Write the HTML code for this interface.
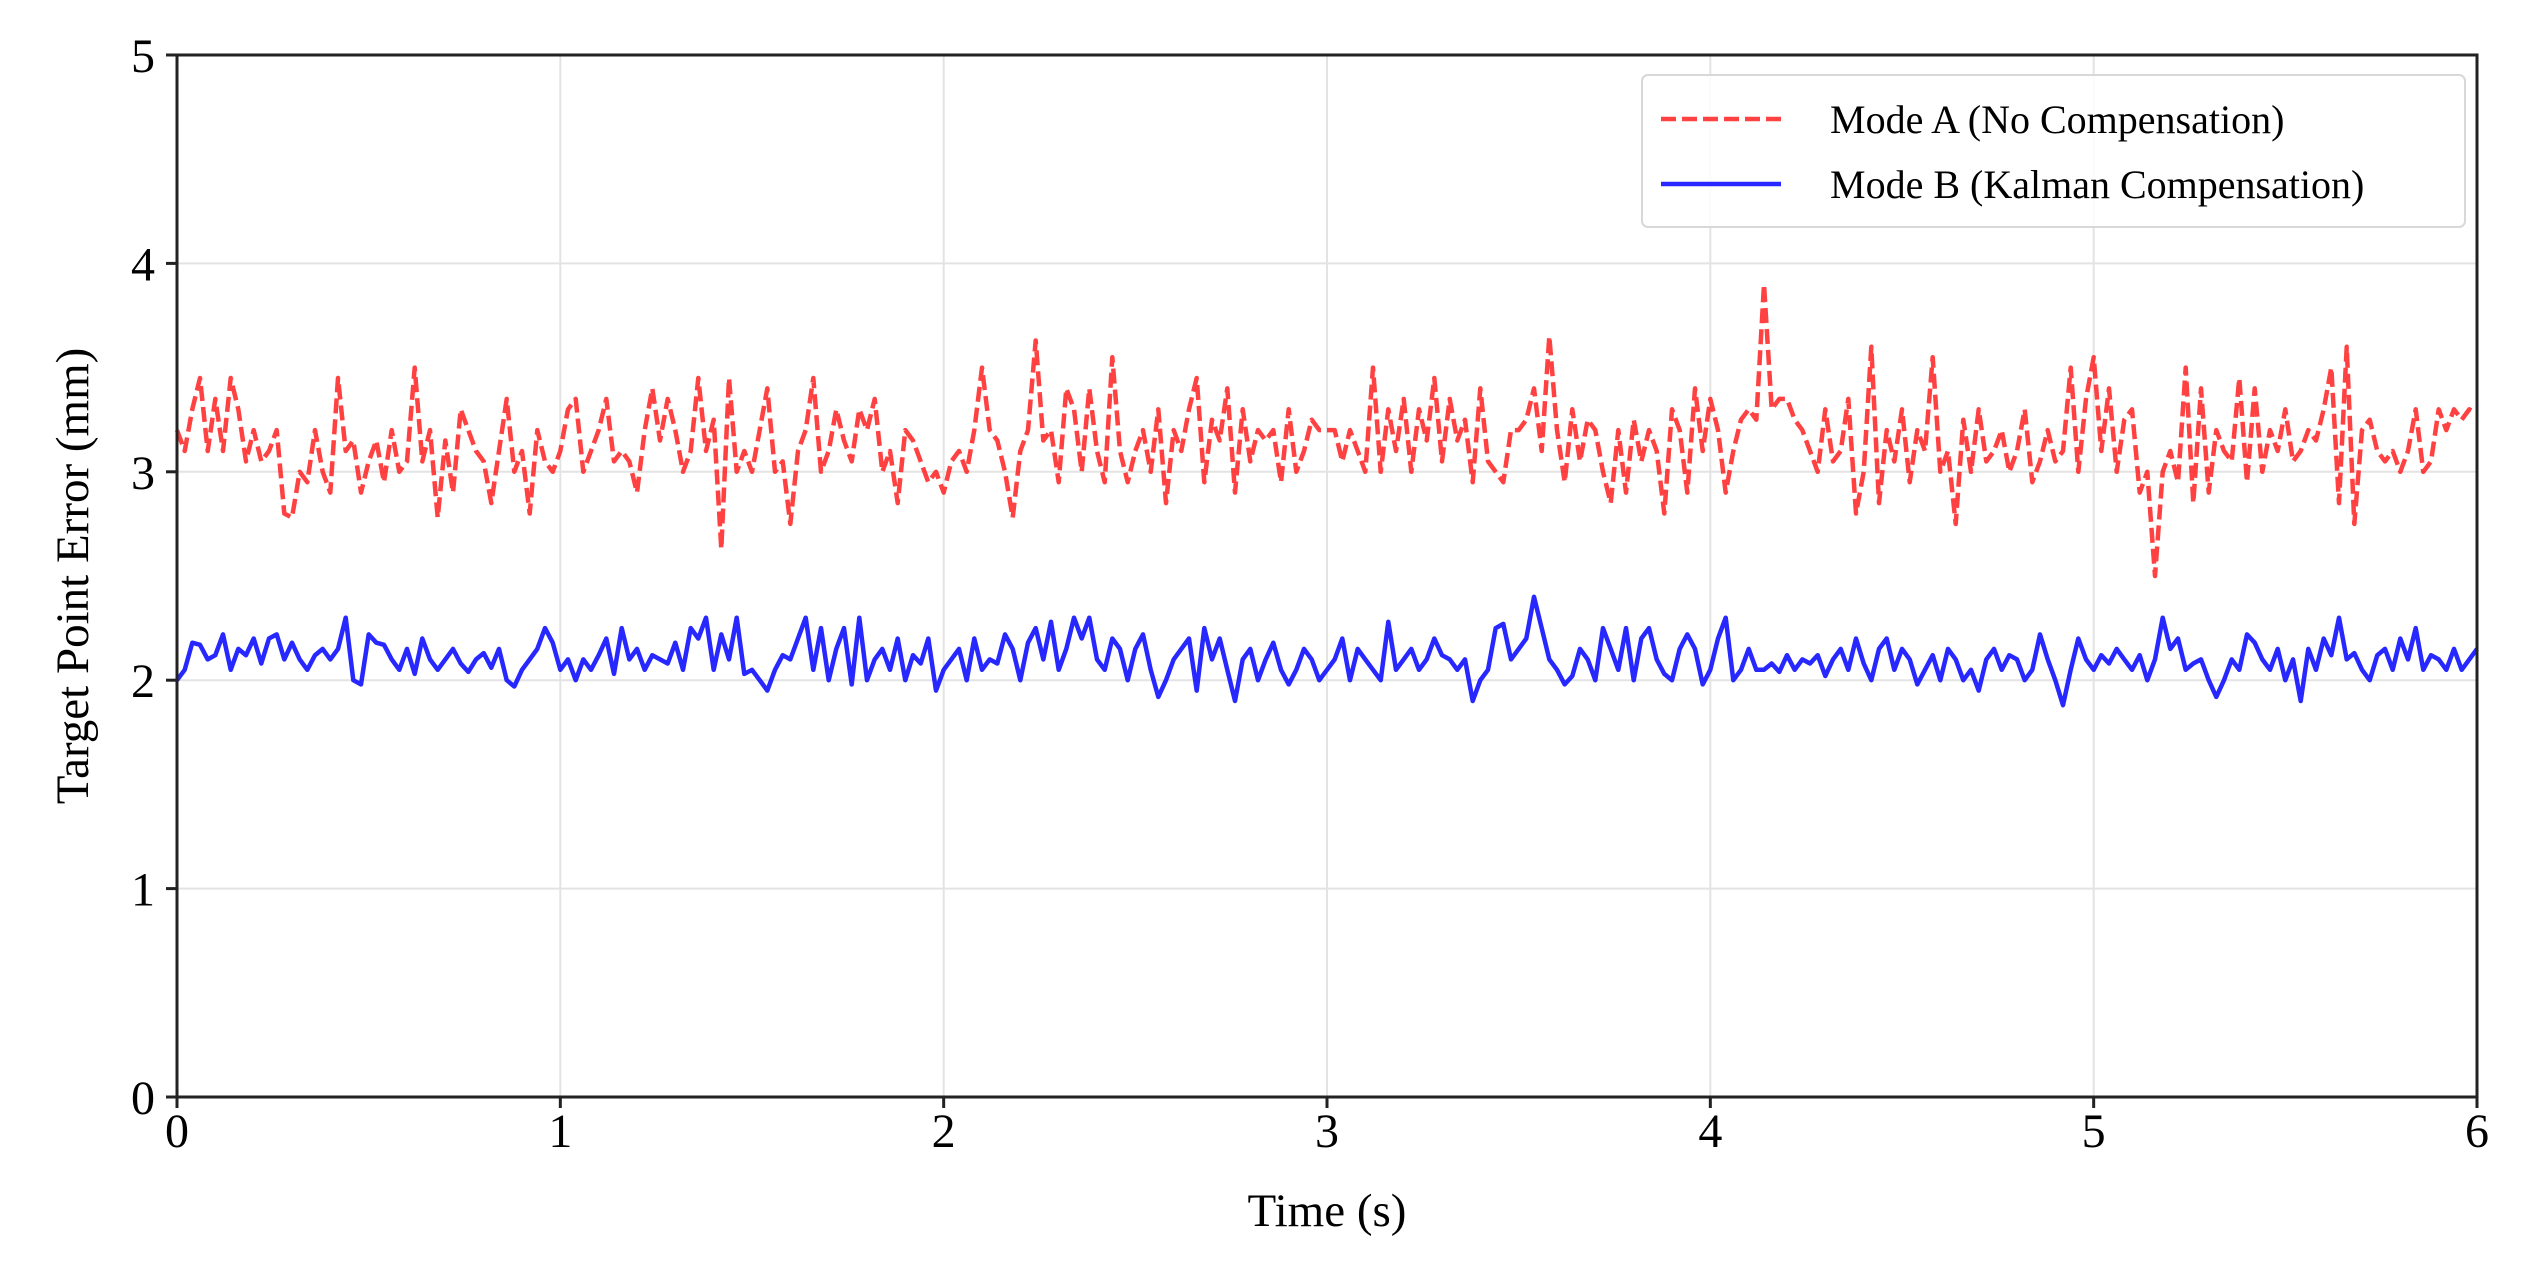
<!DOCTYPE html>
<html><head><meta charset="utf-8"><style>
html,body{margin:0;padding:0;background:#fff;}
svg{display:block;font-family:"Liberation Serif",serif;}
</style></head><body>
<svg id="chart" width="2541" height="1269" viewBox="0 0 2541 1269" xmlns="http://www.w3.org/2000/svg">
<g id="grid"></g>
<g id="series"></g>
<rect x="177" y="55" width="2300" height="1042" fill="none" stroke="#222" stroke-width="3"/>
<g id="ticks"></g>
<text x="1327" y="1226" font-size="47" text-anchor="middle">Time (s)</text>
<text transform="translate(88,576) rotate(-90)" font-size="47" text-anchor="middle">Target Point Error (mm)</text>
<g>
<rect x="1642" y="75" width="823" height="152" rx="6" fill="#fff" fill-opacity="0.85" stroke="#d8d8d8" stroke-width="2"/>
<g>
<line x1="1661" y1="119" x2="1781" y2="119" stroke="#ff2020" stroke-opacity="0.85" stroke-width="4.5" stroke-dasharray="15,6"/>
<text x="1830" y="133" font-size="40">Mode A (No Compensation)</text></g>
<g>
<line x1="1661" y1="184" x2="1781" y2="184" stroke="#1010ff" stroke-opacity="0.9" stroke-width="4.5"/>
<text x="1830" y="198" font-size="40">Mode B (Kalman Compensation)</text></g>
</g>
</svg>
<script>
const xTicks=[0,1,2,3,4,5,6];
const yTicks=[0,1,2,3,4,5];
const dt=0.02;
const modeA=[3.2,3.1,3.3,3.45,3.1,3.35,3.1,3.45,3.3,3.05,3.2,3.05,3.1,3.2,2.8,2.78,3.0,2.95,3.2,3.0,2.9,3.45,3.1,3.15,2.9,
3.05,3.15,2.95,3.2,3.0,3.05,3.5,3.05,3.2,2.78,3.15,2.9,3.3,3.2,3.1,3.05,2.85,3.1,3.35,3.0,3.1,2.8,3.2,3.05,3.0,
3.1,3.3,3.35,3.0,3.1,3.2,3.35,3.05,3.1,3.05,2.9,3.2,3.4,3.15,3.35,3.2,3.0,3.1,3.45,3.1,3.25,2.63,3.45,3.0,3.1,
3.0,3.2,3.4,3.0,3.05,2.75,3.1,3.2,3.45,3.0,3.1,3.3,3.15,3.05,3.3,3.2,3.35,3.0,3.1,2.85,3.2,3.15,3.05,2.95,3.0,
2.9,3.05,3.1,3.0,3.2,3.5,3.2,3.15,3.0,2.78,3.1,3.2,3.63,3.15,3.2,2.95,3.4,3.3,3.0,3.4,3.1,2.95,3.55,3.1,2.95,
3.1,3.2,3.0,3.3,2.85,3.2,3.1,3.3,3.45,2.95,3.25,3.15,3.4,2.9,3.3,3.05,3.2,3.15,3.2,2.95,3.3,3.0,3.1,3.25,3.2,
3.2,3.2,3.05,3.2,3.1,3.0,3.5,3.0,3.3,3.1,3.35,3.0,3.3,3.15,3.45,3.05,3.35,3.15,3.25,2.95,3.4,3.05,3.0,2.95,3.2,
3.2,3.25,3.4,3.1,3.65,3.2,2.95,3.3,3.05,3.25,3.2,3.0,2.85,3.2,2.9,3.25,3.05,3.2,3.1,2.8,3.3,3.2,2.9,3.4,3.1,
3.35,3.2,2.9,3.1,3.25,3.3,3.25,3.9,3.3,3.35,3.35,3.25,3.2,3.1,3.0,3.3,3.05,3.1,3.35,2.8,3.0,3.6,2.85,3.2,3.05,
3.3,2.95,3.2,3.1,3.55,3.0,3.1,2.75,3.25,3.0,3.3,3.05,3.1,3.2,3.0,3.1,3.3,2.95,3.05,3.2,3.05,3.1,3.5,3.0,3.35,
3.55,3.1,3.4,3.0,3.25,3.3,2.9,3.0,2.5,3.0,3.1,2.95,3.5,2.85,3.4,2.9,3.2,3.1,3.05,3.45,2.95,3.4,3.0,3.2,3.1,
3.3,3.05,3.1,3.2,3.15,3.3,3.5,2.85,3.6,2.75,3.2,3.25,3.1,3.05,3.1,3.0,3.1,3.3,3.0,3.05,3.3,3.2,3.3,3.25,3.3,3.28];
const modeB=[2.0,2.05,2.18,2.17,2.1,2.12,2.22,2.05,2.15,2.12,2.2,2.08,2.2,2.22,2.1,2.18,2.1,2.05,2.12,2.15,2.1,2.15,2.3,2.0,1.98,
2.22,2.18,2.17,2.1,2.05,2.15,2.03,2.2,2.1,2.05,2.1,2.15,2.08,2.04,2.1,2.13,2.06,2.15,2.0,1.97,2.05,2.1,2.15,2.25,2.18,
2.05,2.1,2.0,2.1,2.05,2.12,2.2,2.03,2.25,2.1,2.15,2.05,2.12,2.1,2.08,2.18,2.05,2.25,2.2,2.3,2.05,2.22,2.1,2.3,2.03,
2.05,2.0,1.95,2.05,2.12,2.1,2.2,2.3,2.05,2.25,2.0,2.15,2.25,1.98,2.3,2.0,2.1,2.15,2.05,2.2,2.0,2.12,2.08,2.2,1.95,
2.05,2.1,2.15,2.0,2.2,2.05,2.1,2.08,2.22,2.15,2.0,2.18,2.25,2.1,2.28,2.05,2.15,2.3,2.2,2.3,2.1,2.05,2.2,2.15,2.0,
2.15,2.22,2.05,1.92,2.0,2.1,2.15,2.2,1.95,2.25,2.1,2.2,2.05,1.9,2.1,2.15,2.0,2.1,2.18,2.05,1.98,2.05,2.15,2.1,2.0,
2.05,2.1,2.2,2.0,2.15,2.1,2.05,2.0,2.28,2.05,2.1,2.15,2.05,2.1,2.2,2.12,2.1,2.05,2.1,1.9,2.0,2.05,2.25,2.27,2.1,
2.15,2.2,2.4,2.25,2.1,2.05,1.98,2.02,2.15,2.1,2.0,2.25,2.15,2.05,2.25,2.0,2.2,2.25,2.1,2.03,2.0,2.15,2.22,2.15,1.98,
2.05,2.2,2.3,2.0,2.05,2.15,2.05,2.05,2.08,2.04,2.12,2.05,2.1,2.08,2.12,2.02,2.1,2.15,2.05,2.2,2.08,2.0,2.15,2.2,2.05,
2.15,2.1,1.98,2.05,2.12,2.0,2.15,2.1,2.0,2.05,1.95,2.1,2.15,2.05,2.12,2.1,2.0,2.05,2.22,2.1,2.0,1.88,2.05,2.2,2.1,
2.05,2.12,2.08,2.15,2.1,2.05,2.12,2.0,2.1,2.3,2.15,2.2,2.05,2.08,2.1,2.0,1.92,2.0,2.1,2.05,2.22,2.18,2.1,2.05,2.15,
2.0,2.1,1.9,2.15,2.05,2.2,2.12,2.3,2.1,2.13,2.05,2.0,2.12,2.15,2.05,2.2,2.1,2.25,2.05,2.12,2.1,2.05,2.15,2.05,2.1,2.15];

const L=177,R=2477,T=55,B=1097;
const xs=v=>L+(v-0)/(6-0)*(R-L);
const ys=v=>B-(v-0)/(5-0)*(B-T);
const NS='http://www.w3.org/2000/svg';
const grid=document.getElementById('grid'),ticks=document.getElementById('ticks'),ser=document.getElementById('series');
function mk(tag,attrs,parent){const e=document.createElementNS(NS,tag);for(const k in attrs)e.setAttribute(k,attrs[k]);parent.appendChild(e);return e;}
xTicks.forEach(t=>{
  const g=mk('line',{x1:xs(t),x2:xs(t),y1:T,y2:B,stroke:'#e3e3e3','stroke-width':2},grid);
  
  
  const tk=mk('line',{x1:xs(t),x2:xs(t),y1:B,y2:B+11,stroke:'#222','stroke-width':3},ticks);
  
  
  const lb=mk('text',{x:xs(t),y:B+50,'font-size':48,'text-anchor':'middle'},ticks);
  lb.textContent=t;
  
  
});
yTicks.forEach(t=>{
  const g=mk('line',{x1:L,x2:R,y1:ys(t),y2:ys(t),stroke:'#e3e3e3','stroke-width':2},grid);
  
  
  const tk=mk('line',{x1:L-11,x2:L,y1:ys(t),y2:ys(t),stroke:'#222','stroke-width':3},ticks);
  
  
  const lb=mk('text',{x:L-22,y:ys(t)+17,'font-size':48,'text-anchor':'end'},ticks);
  lb.textContent=t;
  
  
});
function path(arr){return arr.map((v,i)=>(i?'L':'M')+xs(Math.min(i*dt,6)).toFixed(1)+','+ys(v).toFixed(1)).join(' ');}
const pA=mk('path',{d:path(modeA),fill:'none',stroke:'#ff2020','stroke-opacity':0.85,'stroke-width':4.5,'stroke-dasharray':'15,6','stroke-linejoin':'round'},ser);


const pB=mk('path',{d:path(modeB),fill:'none',stroke:'#1010ff','stroke-opacity':0.9,'stroke-width':4.5,'stroke-linejoin':'round'},ser);


</script>
</body></html>
